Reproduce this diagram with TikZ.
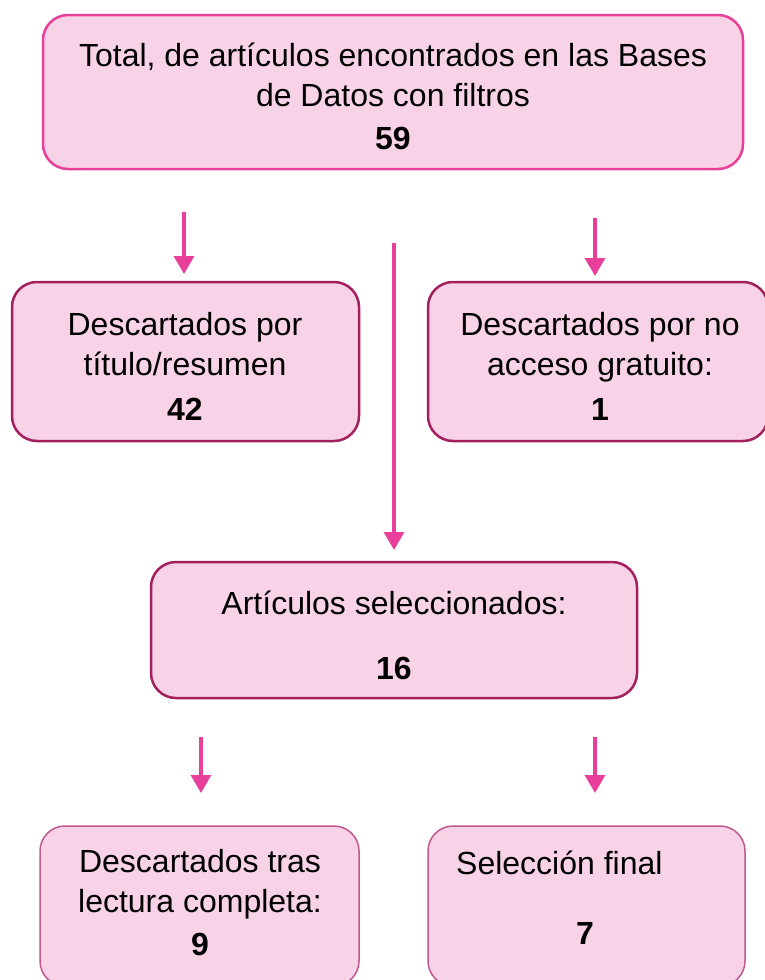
\documentclass[tikz,border=0pt]{standalone}
\usepackage{fontspec}
\setmainfont{Liberation Sans}
\usetikzlibrary{arrows.meta}
\definecolor{boxfill}{HTML}{F8D3E8}
\definecolor{topline}{HTML}{E8409A}
\definecolor{midline}{HTML}{A3205E}
\definecolor{lowline}{HTML}{C05890}
\definecolor{arrowcol}{HTML}{E8409A}
\begin{document}
\begin{tikzpicture}[x=1pt,y=-1pt,
  box/.style={draw, fill=boxfill, rounded corners=25pt, inner sep=0pt},
  txt/.style={align=center, font=\fontsize{32}{40}\selectfont, inner sep=0pt},
  arr/.style={draw=arrowcol, line width=3.2pt, -{Triangle[width=20pt,length=18pt]}}]
\useasboundingbox (0,0) rectangle (765,980);
% boxes
\node[box, draw=topline, line width=2.5pt, minimum width=700pt, minimum height=154pt] (top) at (393,92) {};
\node[box, draw=midline, line width=2.5pt, minimum width=347pt, minimum height=159pt] (l1) at (185.5,361.5) {};
\node[box, draw=midline, line width=2.5pt, minimum width=340pt, minimum height=159pt] (r1) at (598,361.5) {};
\node[box, draw=midline, line width=2.5pt, minimum width=486pt, minimum height=136pt] (mid) at (394,630) {};
\node[box, draw=lowline, line width=1.5pt, minimum width=319pt, minimum height=160pt] (bl) at (199.5,906) {};
\node[box, draw=lowline, line width=1.5pt, minimum width=317pt, minimum height=160pt] (br) at (586.5,906) {};
% texts
\node[txt] (ttop) at (393,96) {Total, de artículos encontrados en las Bases\\de Datos con filtros\\[3pt]\textbf{59}};
\node[txt] (tl1) at (185,366) {Descartados por\\título/resumen\\[5pt]\textbf{42}};
\node[txt] (tr1) at (600,366) {Descartados por no\\acceso gratuito:\\[5pt]\textbf{1}};
\node[txt] (tmid1) at (394,603) {Artículos seleccionados:};
\node[txt] (tmid2) at (394,668) {\textbf{16}};
\node[txt] (tbl) at (200,903) {Descartados tras\\lectura completa:\\[3pt]\textbf{9}};
\node[txt, anchor=west] (tbr1) at (456,863) {Selección final};
\node[txt] (tbr2) at (585,933) {\textbf{7}};
% arrows
\coordinate (a1s) at (184,212); \coordinate (a1e) at (184,274);
\coordinate (a2s) at (595,218); \coordinate (a2e) at (595,276);
\coordinate (a3s) at (394,243); \coordinate (a3e) at (394,550);
\coordinate (a4s) at (201,737); \coordinate (a4e) at (201,793);
\coordinate (a5s) at (595,737); \coordinate (a5e) at (595,793);
\draw[arr] (a1s) -- (a1e);
\draw[arr] (a2s) -- (a2e);
\draw[arr] (a3s) -- (a3e);
\draw[arr] (a4s) -- (a4e);
\draw[arr] (a5s) -- (a5e);
\end{tikzpicture}
\end{document}
